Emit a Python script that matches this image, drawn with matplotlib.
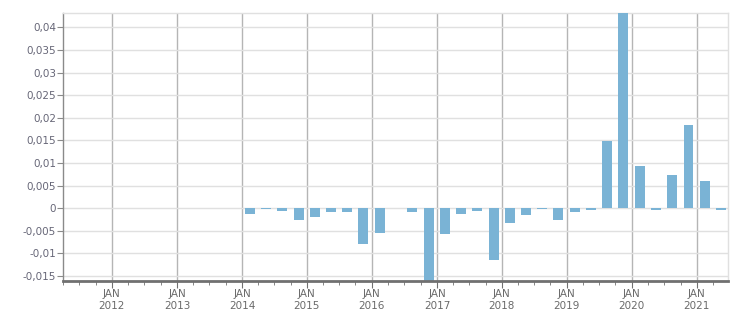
import datetime as dt
import matplotlib
matplotlib.use("Agg")
import matplotlib.pyplot as plt
import matplotlib.dates as mdates
from matplotlib.ticker import FuncFormatter, MultipleLocator

# quarterly values, first quarter 2014 to second quarter 2021
quarters = [(y, q) for y in range(2014, 2022) for q in range(1, 5)][:30]
values = [-0.0013, -0.0002, -0.0007, -0.0027, -0.0020, -0.0009, -0.0009, -0.0080,
          -0.0055, 0.0, -0.0009, -0.0161, -0.0058, -0.0013, -0.0007, -0.0114,
          -0.0033, -0.0014, -0.0001, -0.0027, -0.0009, -0.0003, 0.0149, 0.0432,
          0.0094, -0.0005, 0.0074, 0.0185, 0.0061, -0.0003]

# bars sit in the middle month of each quarter
dates = [dt.date(y, 3 * q - 1, 15) for y, q in quarters]

fig = plt.figure(figsize=(7.51, 3.13), dpi=100)
ax = fig.add_axes([63 / 751, 1 - 281 / 313, (728 - 63) / 751, (281 - 13) / 313])

ax.bar(dates, values, width=56, color="#7ab3d5", zorder=3)

ax.set_xlim(dt.date(2011, 4, 1), dt.date(2021, 6, 25))
ax.set_ylim(-0.0161, 0.0432)

ax.xaxis.set_major_locator(mdates.YearLocator())
ax.xaxis.set_minor_locator(mdates.MonthLocator(bymonth=[1, 4, 7, 10]))
ax.xaxis.set_major_formatter(FuncFormatter(lambda x, p: "JAN\n" + str(mdates.num2date(x).year)))
ax.yaxis.set_major_locator(MultipleLocator(0.005))


def comma(v, pos):
    if abs(v) < 1e-9:
        return "0"
    return ("%g" % round(v, 4)).replace(".", ",")


ax.yaxis.set_major_formatter(FuncFormatter(comma))

ax.grid(axis="y", color="#e0e0e0", linewidth=1, zorder=0)
ax.grid(axis="x", which="major", color="#b5b5b5", linewidth=1, zorder=1)

for s in ["top", "right"]:
    ax.spines[s].set_color("#e0e0e0")
    ax.spines[s].set_linewidth(1)
ax.spines["left"].set_color("#8a8a8a")
ax.spines["left"].set_linewidth(1)
ax.spines["bottom"].set_color("#707070")
ax.spines["bottom"].set_linewidth(2)
ax.spines["bottom"].set_zorder(5)

ax.tick_params(axis="y", length=4, color="#8a8a8a", labelsize=7.5, labelcolor="#666677", pad=1)
ax.tick_params(axis="x", which="major", length=5, color="#707070", labelsize=7.5,
               labelcolor="#6a6a6a", pad=1)
ax.tick_params(axis="x", which="minor", length=3, color="#707070")
for t in ax.get_xticklabels():
    t.set_linespacing(1.25)

fig.savefig("out.png", dpi=100)
